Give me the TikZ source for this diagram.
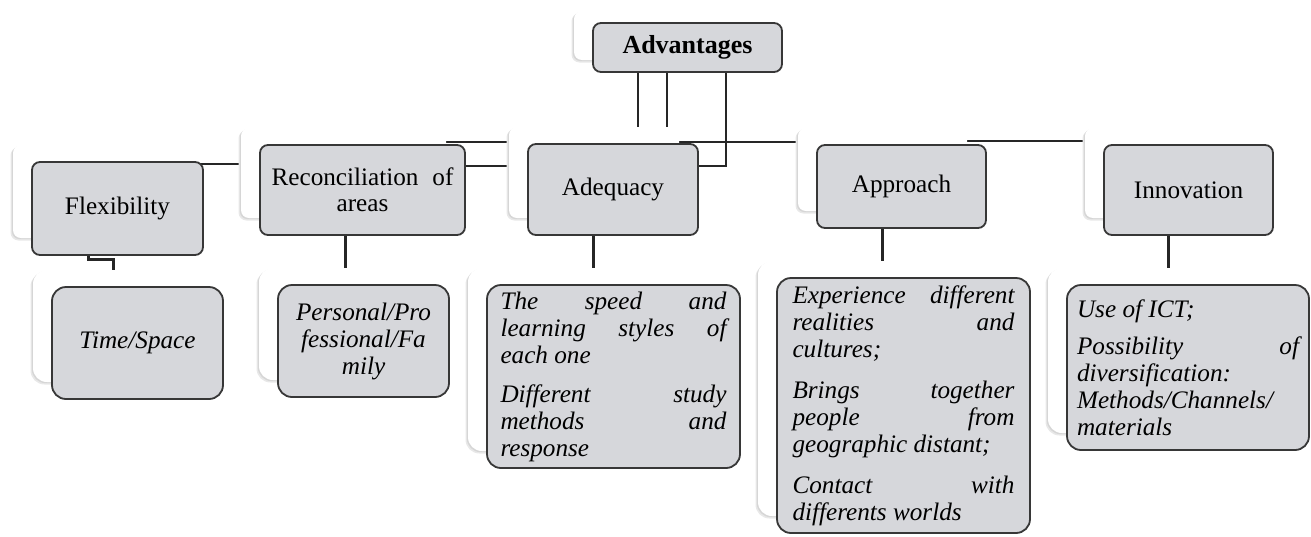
\documentclass[tikz,border=0pt]{standalone}
\usepackage{fontspec}
\setmainfont{Liberation Serif}
\usetikzlibrary{shadows,backgrounds}

\definecolor{boxgray}{RGB}{214,215,219}
\definecolor{boxedge}{RGB}{55,55,55}
\tolerance=10000
\hyphenpenalty=10000

\tikzset{
    card/.style={draw=boxedge, line width=0.9pt, fill=boxgray, rounded corners=4pt,
        general shadow={fill=black!9, shadow xshift=-10.75pt, shadow yshift=#1-1.25pt},
        general shadow={fill=black!16, shadow xshift=-10.1pt, shadow yshift=#1-0.6pt},
        general shadow={fill=white, shadow xshift=-9.5pt, shadow yshift=#1}},
    card/.default=8.5pt,
    topic/.style={card=#1, font=\fontsize{12.6}{13}\selectfont, align=center, inner sep=0pt},
    topic/.default=8.5pt,
    detail/.style={card, rounded corners=7pt, font=\fontsize{12.6}{13.5}\selectfont\itshape,
        align=justify, inner ysep=2pt},
    link/.style={line width=1pt, black!85},
    drop/.style={line width=1.5pt, black!85}
}

\begin{document}
\begin{tikzpicture}[x=0.5pt, y=-0.5pt]

    \useasboundingbox (0,0) rectangle (1311,536);

    %% Top of the tree
    \node[topic=6pt, font=\fontsize{13}{13}\selectfont\bfseries, minimum width=94.5pt, minimum height=24.5pt] (adv) at (687.5,47.5) {Advantages};

    % Second row
    \node[topic, minimum width=85.5pt, minimum height=46.5pt] (flex) at (117.5,208.5) {Flexibility};
    \node[topic, minimum width=102.5pt, minimum height=45pt] (rec) at (362.5,190) {Reconciliation\hspace{0.55em}of\\areas};
    \node[topic, minimum width=85pt, minimum height=45.5pt] (adq) at (613,189.5) {Adequacy};
    \node[topic, minimum width=84.5pt, minimum height=41.5pt] (apr) at (901.5,186.5) {Approach};
    \node[topic, minimum width=84.5pt, minimum height=45pt] (inn) at (1188.5,190) {Innovation};

    % Details
    \node[detail, align=center, minimum width=85.5pt, minimum height=56pt] (tsp) at (137.5,343) {Time/Space};
    \node[detail, align=center, minimum width=85.5pt, minimum height=56pt] (pers) at (363.5,341) {Personal/Pro\\fessional/Fa\\mily};
    \node[detail, text width=113pt, inner xsep=6.75pt, minimum height=91.5pt] (adqsub) at (613.5,376.5)
        {The speed and\linebreak learning styles of\linebreak each one\\[6pt]
         Different study\linebreak methods and\linebreak response};
    \node[detail, text width=111pt, inner xsep=7.75pt, minimum height=127.5pt] (aprsub) at (903.5,405.5)
        {Experience different\linebreak realities and\linebreak cultures;\\[7pt]
         Brings together\linebreak people from\linebreak geographic distant;\\[7pt]
         Contact with\linebreak differents worlds};
    \node[detail, text width=111pt, inner xsep=5pt, minimum height=82.5pt] (innsub) at (1188,367.5)
        {Use of ICT;\\[5pt]
         Possibility of\linebreak diversification:\\ Methods/Channels/\\ materials};

    %% Connectors
    \begin{pgfonlayer}{background}
        \draw[link] ([xshift=-24.75pt]adv.south) -- ([xshift=-24.75pt]adv.south |- adq.north);
        \draw[link] ([xshift=-10.25pt]adv.south) -- ([xshift=-10.25pt]adv.south |- adq.north);
        \draw[link] ([xshift=19.25pt]adv.south) |- ([yshift=11.75pt]adq.east);
        \draw[link] ([yshift=-1.5pt]flex.north) -- ([yshift=-1.5pt]flex.north -| rec.center);
        \draw[link] ([yshift=1pt]rec.north) -- ([yshift=1pt]rec.north -| adq.center);
        \draw[link] ([yshift=12pt]rec.east) -- ([yshift=12pt]rec.east -| adq.center);
        \draw[link] ([yshift=0.5pt]adq.north) -- ([yshift=0.5pt]adq.north -| apr.center);
        \draw[link] ([yshift=1.5pt]apr.north) -- ([yshift=1.5pt]apr.north -| inn.center);

        % Down to the details
        \draw[drop] ([xshift=-14.75pt]flex.south) -- ++(0,4) -| ([xshift=-12.25pt]tsp.north);
        \draw[drop] ([xshift=-8.75pt]rec.south) -- ([xshift=-8.75pt]rec.south |- pers.north);
        \draw[drop] ([xshift=-10pt]adq.south) -- ([xshift=-10pt]adq.south |- adqsub.north);
        \draw[drop] ([xshift=-9.75pt]apr.south) -- ([xshift=-9.75pt]apr.south |- aprsub.north);
        \draw[drop] ([xshift=-10.25pt]inn.south) -- ([xshift=-10.25pt]inn.south |- innsub.north);
    \end{pgfonlayer}

\end{tikzpicture}
\end{document}
